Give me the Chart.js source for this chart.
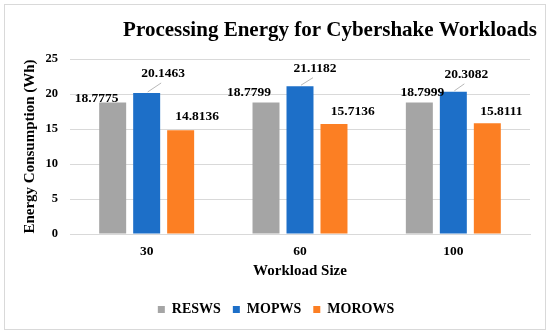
<!DOCTYPE html>
<html>
<head>
<meta charset="utf-8">
<script src="https://cdn.jsdelivr.net/npm/chart.js@4/dist/chart.umd.min.js"></script>
<style>
html,body{margin:0;padding:0;background:#fff;}
#wrap{width:550px;height:335px;position:relative;}
</style>
</head>
<body>
<div id="wrap"><canvas id="c" width="550" height="335"></canvas></div>
<script>
const categories = ['30', '60', '100'];
const seriesNames = ['RESWS', 'MOPWS', 'MOROWS'];
const resws = [18.7775, 18.7799, 18.7999];
const mopws = [20.1463, 21.1182, 20.3082];
const morows = [14.8136, 15.7136, 15.8111];
const yTicks = [0, 5, 10, 15, 20, 25];

const chartTitle = 'Processing Energy for Cybershake Workloads';
const xTitle = 'Workload Size';
const yTitle = 'Energy Consumption (Wh)';

const colors = ['#A5A5A5', '#1D6FC8', '#FC7F23'];
const serif = "'Liberation Serif', 'Times New Roman', serif";

// label placement (dx, dy relative to bar top-center), leader flag
const labelPlacement = [
  [[-16, -4, false], [-17, -10, false], [3, -10, false]],
  [[16.5, -19, true], [15, -17.5, true], [13, -17, true]],
  [[16.5, -13.6, false], [18.7, -12.6, false], [14, -12, false]]
];

const framePlugin = {
  id: 'frame',
  beforeDraw(chart) {
    const ctx = chart.ctx;
    ctx.save();
    ctx.fillStyle = '#fff';
    ctx.fillRect(0, 0, chart.width, chart.height);
    ctx.strokeStyle = '#d9d9d9';
    ctx.lineWidth = 1;
    ctx.strokeRect(4.5, 4.5, 541, 325);
    ctx.restore();
  },
  afterDraw(chart) {
    const ctx = chart.ctx;
    ctx.save();
    ctx.fillStyle = '#000';
    ctx.font = 'bold 21px ' + serif;
    ctx.textAlign = 'center';
    ctx.textBaseline = 'middle';
    ctx.fillText(chartTitle, 330, 31);
    ctx.restore();
  }
};

const labelPlugin = {
  id: 'vlabels',
  afterDatasetsDraw(chart) {
    const ctx = chart.ctx;
    ctx.save();
    ctx.font = 'bold 13.5px ' + serif;
    ctx.textAlign = 'center';
    ctx.textBaseline = 'middle';
    chart.data.datasets.forEach((ds, di) => {
      const meta = chart.getDatasetMeta(di);
      meta.data.forEach((bar, i) => {
        const [dx, dy, leader] = labelPlacement[di][i];
        const lx = bar.x + dx, ly = bar.y + dy;
        if (leader) {
          ctx.strokeStyle = '#a6a6a6';
          ctx.lineWidth = 0.8;
          ctx.beginPath();
          ctx.moveTo(bar.x + 1, bar.y - 1);
          ctx.lineTo(lx - 2, ly + 9);
          ctx.stroke();
        }
        ctx.fillStyle = '#000';
        ctx.fillText(ds.data[i].toFixed(4), lx, ly);
      });
    });
    ctx.restore();
  }
};

new Chart(document.getElementById('c'), {
  type: 'bar',
  data: {
    labels: categories,
    datasets: [
      { label: seriesNames[0], data: resws, backgroundColor: colors[0] },
      { label: seriesNames[1], data: mopws, backgroundColor: colors[1] },
      { label: seriesNames[2], data: morows, backgroundColor: colors[2] }
    ]
  },
  options: {
    responsive: false,
    animation: false,
    devicePixelRatio: 1,
    datasets: { bar: { categoryPercentage: 0.665, barPercentage: 0.794 } },
    layout: { padding: { left: 22, right: 20, top: 59, bottom: 8.5 } },
    plugins: {
      legend: {
        position: 'bottom',
        labels: {
          boxWidth: 7, boxHeight: 7, padding: 12,
          color: '#000',
          font: { family: serif, size: 14, weight: 'bold' }
        }
      },
      title: { display: false },
      tooltip: { enabled: false }
    },
    scales: {
      x: {
        grid: { display: false, drawTicks: false },
        border: { display: true, color: '#d9d9d9' },
        ticks: { color: '#000', padding: 9, font: { family: serif, size: 13.5, weight: 'bold' } },
        title: { display: true, text: xTitle, color: '#000', padding: { top: 0, bottom: 10.5 },
                 font: { family: serif, size: 15, weight: 'bold' } },
        afterFit(s) { s.height = 56.5; }
      },
      y: {
        min: 0, max: 25,
        afterBuildTicks(s) { s.ticks = yTicks.map(v => ({ value: v })); },
        grid: { color: '#d9d9d9', drawTicks: false },
        border: { display: false },
        ticks: { color: '#000', padding: 12, font: { family: serif, size: 12.5, weight: 'bold' } },
        title: { display: true, text: yTitle, color: '#000', padding: { top: -1, bottom: 0 },
                 font: { family: serif, size: 15, weight: 'bold' } },
        afterFit(s) { s.width = 48; }
      }
    }
  },
  plugins: [framePlugin, labelPlugin]
});
</script>
</body>
</html>
